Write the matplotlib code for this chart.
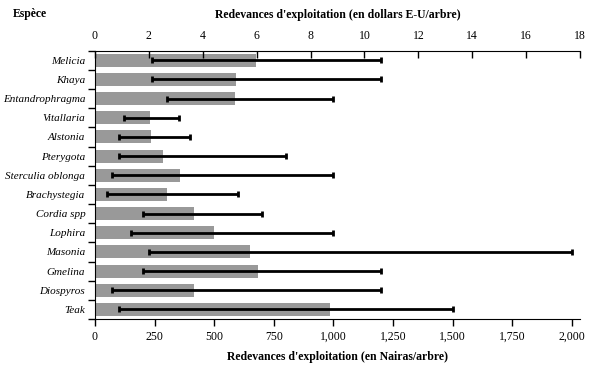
import matplotlib
matplotlib.use("Agg")
import matplotlib.pyplot as plt
import numpy as np

species = ["Melicia", "Khaya", "Entandrophragma", "Vitallaria", "Alstonia", "Pterygota",
           "Sterculia oblonga", "Brachystegia", "Cordia spp", "Lophira", "Masonia",
           "Gmelina", "Diospyros", "Teak"]
mean_naira = [675, 590, 587, 231, 235, 285, 356, 302, 415, 500, 650, 683, 415, 985]
min_naira = [240, 240, 302, 122, 100, 100, 70, 50, 200, 150, 225, 200, 70, 100]
max_naira = [1200, 1200, 1000, 352, 400, 800, 1000, 600, 700, 1000, 2000, 1200, 1200, 1500]
naira_ticks = [0, 250, 500, 750, 1000, 1250, 1500, 1750, 2000]
naira_labels = ["0", "250", "500", "750", "1,000", "1,250", "1,500", "1,750", "2,000"]
dollar_ticks = [0, 2, 4, 6, 8, 10, 12, 14, 16, 18]

plt.rcParams['font.family'] = ['Liberation Serif', 'DejaVu Serif']

fig = plt.figure(figsize=(6.05, 3.71), dpi=100)
ax = fig.add_axes([95/605, 1-319/371, 485/605, (319-50.7)/371])

n = len(species)
y = np.arange(n)
mean = np.array(mean_naira)
lo = mean - np.array(min_naira)
hi = np.array(max_naira) - mean
ax.barh(y, mean, height=0.68, color='#999999', zorder=1)
ax.errorbar(mean, y, xerr=[lo, hi], fmt='none', ecolor='black', elinewidth=2,
            capsize=2.5, capthick=2, zorder=2)

ax.set_ylim(n - 0.5, -0.5)
ax.set_xlim(0, 2034)
ax.set_yticks(np.arange(-0.5, n, 1))
ax.set_yticklabels([])
ax.set_yticks(y, minor=True)
ax.set_yticklabels(species, minor=True, fontstyle='italic', fontsize=8)
ax.tick_params(axis='y', which='major', direction='out', length=5, width=1)
ax.tick_params(axis='y', which='minor', length=0, pad=7)
ax.set_xticks(naira_ticks)
ax.set_xticklabels(naira_labels, fontsize=8.5)
ax.tick_params(axis='x', direction='out', length=5, width=1)
ax.spines['right'].set_visible(False)
ax.spines['top'].set_visible(False)
ax.set_xlabel("Redevances d'exploitation (en Nairas/arbre)", fontsize=8.5,
              fontweight='bold', labelpad=6)

ax2 = ax.twiny()
ax2.set_xlim(0, 18)
ax2.set_xticks(dollar_ticks)
ax2.set_xticklabels([str(t) for t in dollar_ticks], fontsize=8.5)
ax2.tick_params(axis='x', direction='in', length=5, width=1, pad=6)
ax2.spines['right'].set_visible(False)
ax2.spines['bottom'].set_visible(False)
ax2.spines['left'].set_visible(False)
ax2.set_xlabel("Redevances d'exploitation (en dollars E-U/arbre)", fontsize=8.5,
               fontweight='bold', labelpad=9)

fig.text(13/605, 1-14/371, "Espèce", fontsize=8.5, fontweight='bold', va='center', ha='left')

fig.savefig("out.png", dpi=100)
